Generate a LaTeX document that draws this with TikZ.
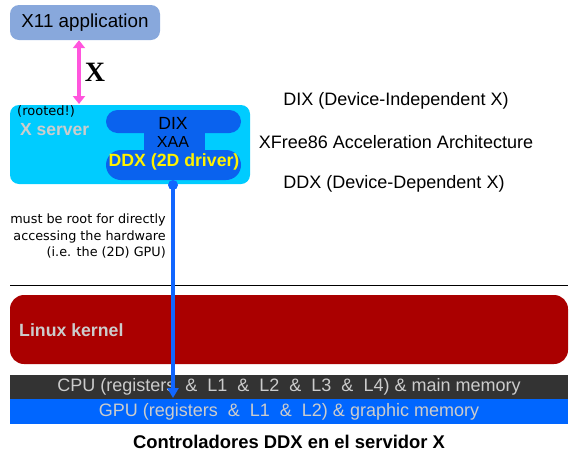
\documentclass[tikz,border=0pt]{standalone}
\usepackage{fontspec}
\setmainfont{Liberation Sans}
\newfontfamily\dejavu{DejaVu Sans}
\newfontfamily\serifx{Liberation Serif}
\usetikzlibrary{arrows.meta}

\definecolor{appblue}{HTML}{88A8DC}
\definecolor{servercyan}{HTML}{00CCFF}
\definecolor{ddxblue}{HTML}{0A62EE}
\definecolor{linkblue}{HTML}{1166FF}
\definecolor{kernelred}{HTML}{AA0000}
\definecolor{cpugray}{HTML}{333333}
\definecolor{gpublue}{HTML}{0066FF}
\definecolor{lightgray}{HTML}{CCCCCC}
\definecolor{pinkarrow}{HTML}{FF55DD}

\tikzset{
  layerbox/.style={rounded corners=#1, inner sep=0pt},
  barbox/.style={inner sep=0pt, minimum width=558pt, text=lightgray, font=\fontsize{18}{20}\selectfont},
  sidetext/.style={font=\fontsize{18}{20}\selectfont},
}

\begin{document}
\begin{tikzpicture}[x=1pt,y=-1pt]
	\useasboundingbox (0,0) rectangle (578,453);
	% application and X server
	\node[layerbox=9pt, fill=appblue, minimum width=150pt, minimum height=35pt, font=\fontsize{18.8}{20}\selectfont] (app) at (85,22.5) {X11 application};
	\node[layerbox=9pt, fill=servercyan, minimum width=240pt, minimum height=79pt] (xserver) at (130,144.5) {};
	\node[anchor=north west, inner sep=0pt, font=\dejavu\fontsize{13}{14}\selectfont] (rooted) at (17,105) {(rooted!)};
	\node[anchor=west, inner sep=0pt, text=lightgray, font=\bfseries\fontsize{17.5}{19}\selectfont] (xsrvlabel) at (20,130) {X server};
	% DIX / XAA / DDX blob
	\fill[ddxblue, rounded corners=11.5pt] (106,110) rectangle (241,133);
	\fill[ddxblue] (144,131) rectangle (205,152);
	\fill[ddxblue, rounded corners=15pt] (106,150) rectangle (241,180);
	\node[inner sep=0pt, font=\fontsize{17.6}{19}\selectfont] (dix) at (173,123) {DIX};
	\node[inner sep=0pt, font=\fontsize{16}{17}\selectfont] (xaa) at (173,142) {XAA};
	\node[inner sep=0pt, text=yellow, font=\bfseries\fontsize{17.7}{19}\selectfont] (ddx) at (174,162) {DDX (2D driver)};
	% explanations on the right
	\node[sidetext] (dixtxt) at (396,101) {DIX (Device-Independent X)};
	\node[sidetext] (xaatxt) at (396,142) {XFree86 Acceleration Architecture};
	\node[sidetext] (ddxtxt) at (394,184) {DDX (Device-Dependent X)};
	% protocol arrow
	\draw[pinkarrow, line width=3.5pt, {Triangle[length=8pt,width=12pt]}-{Triangle[length=8pt,width=12pt]}] (app.south -| 79,0) -- (79,104) coordinate (xtop);
	\node[font=\serifx\bfseries\fontsize{28}{30}\selectfont] (xlabel) at (95,72) {X};
	% kernel and hardware
	\draw[black, line width=1pt] (10,285) -- (568,285);
	\node[layerbox=14pt, fill=kernelred, minimum width=558pt, minimum height=69pt] (kernel) at (289,329.5) {};
	\node[anchor=west, inner sep=0pt, text=lightgray, font=\bfseries\fontsize{17.7}{20}\selectfont] (kerneltxt) at (19,330) {Linux kernel};
	\node[barbox, fill=cpugray, minimum height=24pt] (cpu) at (289,387) {CPU (registers\ \ \&\ \ L1\ \ \&\ \ L2\ \ \&\ \ L3\ \ \&\ \ L4) \& main memory};
	\node[barbox, fill=gpublue, minimum height=25pt] (gpu) at (289,411.5) {GPU (registers\ \ \&\ \ L1\ \ \&\ \ L2) \& graphic memory};
	% driver access to the GPU
	\coordinate (ddxfoot) at (173,185);
	\coordinate (gputip) at (173,398);
	\draw[linkblue, line width=4pt, -{Triangle[length=10pt,width=11pt]}] (ddxfoot) -- (gputip);
	\fill[linkblue] (ddxfoot) circle (5pt);
	\node[anchor=north east, align=right, inner sep=0pt, font=\dejavu\fontsize{12.8}{16.5}\selectfont] (rootnote) at (166,214) {must be root for directly\\accessing the hardware\\(i.e. the (2D) GPU)};
	% caption
	\node[font=\bfseries\fontsize{18.4}{20}\selectfont] (caption) at (289,442) {Controladores DDX en el servidor X};
\end{tikzpicture}
\end{document}
